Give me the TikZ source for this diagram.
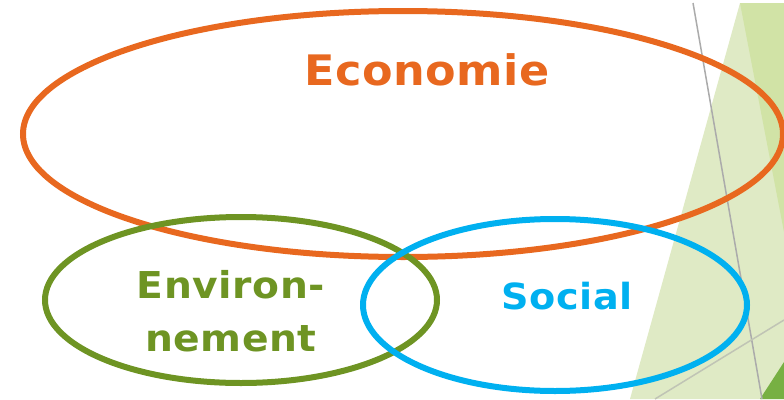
\documentclass[tikz,border=0pt]{standalone}
\usepackage{fontspec}
\setmainfont{DejaVu Sans}
\newfontfamily\labfont[FakeStretch=1.06, LetterSpace=1.5]{DejaVu Sans Bold}
\definecolor{ecoorange}{HTML}{E8681F}
\definecolor{envgreen}{HTML}{6E9423}
\definecolor{socblue}{HTML}{00B0F0}
\definecolor{bglight}{HTML}{DFEAC5}
\definecolor{bgmid}{HTML}{D1E3A6}
\definecolor{bgdark}{HTML}{77B043}
\definecolor{thingray}{HTML}{ABABAB}
\begin{document}
\begin{tikzpicture}[x=1pt,y=-1pt,
  ring/.style={line width=6pt},
  lab/.style={align=center, inner sep=0pt}]
\useasboundingbox (0,0) rectangle (784,399);
% background decoration
\fill[bglight] (740,3) -- (784,3) -- (784,399) -- (630,399) -- cycle;
\fill[bgmid] (740,3) -- (784,3) -- (784,232) -- cycle;
\fill[bgdark] (760,399) -- (784,362) -- (784,399) -- cycle;
\draw[thingray, line width=1.5pt] (693,3) -- (762,399);
\draw[thingray!60!bglight, line width=1.5pt] (655,399) -- (784,320);
% ellipses
\coordinate (ecoc) at (403,134);
\draw[ring, ecoorange] (ecoc) ellipse [x radius=380, y radius=123];
\coordinate (envc) at (241,300);
\draw[ring, envgreen] (envc) ellipse [x radius=196, y radius=83];
\coordinate (socc) at (555,305);
\draw[ring, socblue] (socc) ellipse [x radius=192, y radius=86];
% labels
\node[lab, text=ecoorange, font=\labfont\fontsize{42}{42}\selectfont] (eco) at (427,70) {Economie};
\node[lab, text=envgreen, font=\labfont\fontsize{37}{53}\selectfont] (env) at (231,311) {Environ-\\nement};
\node[lab, text=socblue, font=\labfont\fontsize{36}{36}\selectfont] (soc) at (567,296) {Social};
\end{tikzpicture}
\end{document}
